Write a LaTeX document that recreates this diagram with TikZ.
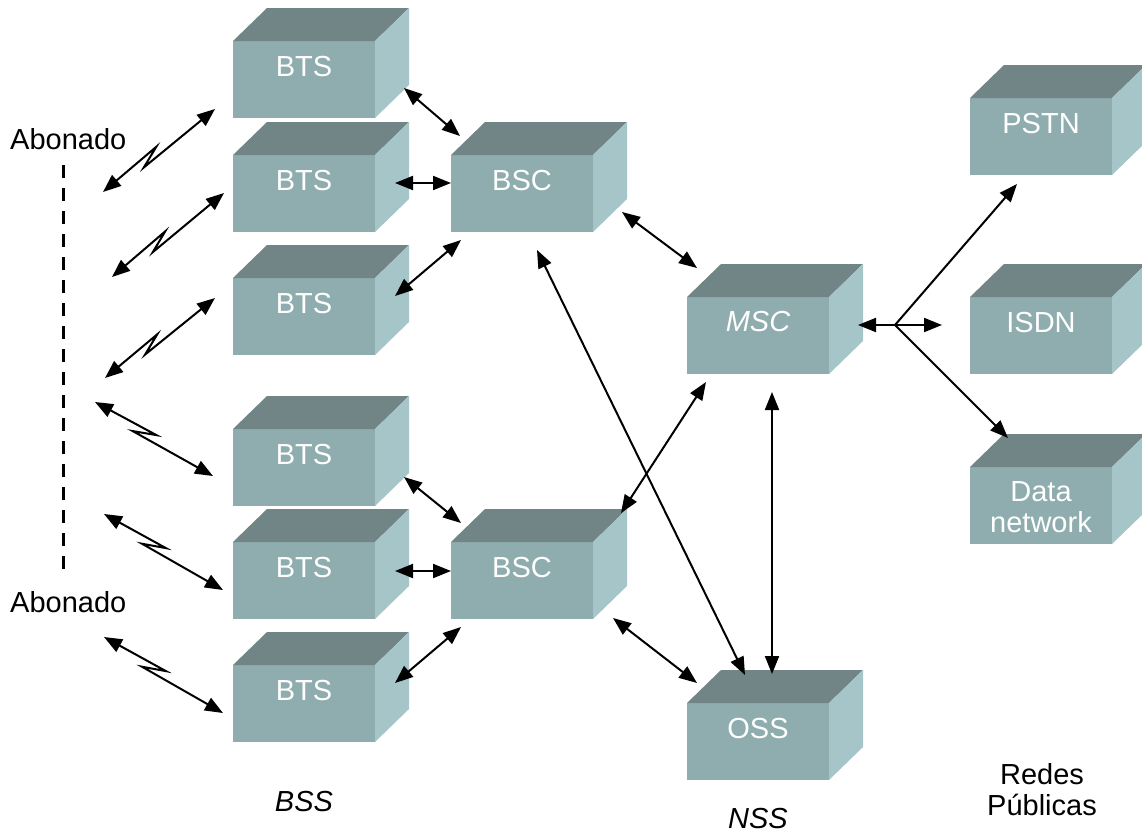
\documentclass[tikz,border=0pt]{standalone}
\usepackage{fontspec}
\setmainfont{Liberation Sans}
\usetikzlibrary{arrows.meta,calc}
\definecolor{cfront}{HTML}{8FADAE}
\definecolor{ctop}{HTML}{718587}
\definecolor{cside}{HTML}{A6C5C8}
\tikzset{
  face/.style={rectangle, fill=cfront, minimum width=142pt, minimum height=77pt,
    inner sep=0pt, outer sep=0pt, anchor=north west},
  boxtext/.style={anchor=base, text=white, inner sep=0pt,
    font=\fontsize{29}{31}\selectfont},
  lbl/.style={inner sep=0pt, text=black, font=\fontsize{29}{31}\selectfont},
  conn/.style={line width=2pt, black},
  >={Triangle[length=18pt 0 0,width=14pt 0 0]}
}
\newcommand{\netbox}[3]{%
  \node[face] (#1) at (#2,#3) {};
  \fill[ctop] (#1.north west) -- ++(34pt,33pt) -- ++(142pt,0pt) -- (#1.north east) -- cycle;
  \fill[cside] (#1.north east) -- ++(34pt,33pt) -- ++(0pt,-77pt) -- (#1.south east) -- cycle;
}
\newcommand{\zap}[2]{%
  \draw[conn,<->] (#1) -- ($(#1)!0.5!(#2)!4.6pt!90:(#2)$)
    -- ($(#1)!0.34!(#2)!4.6pt!-90:(#2)$) -- (#2);
}
\begin{document}
\begin{tikzpicture}[x=1pt,y=-1pt]
\useasboundingbox (0,0) rectangle (1142,833);

% boxes
\netbox{bts1}{233}{41}
\netbox{bts2}{233}{155}
\netbox{bts3}{233}{278}
\netbox{bts4}{233}{429}
\netbox{bts5}{233}{542}
\netbox{bts6}{233}{665}
\netbox{bsc1}{451}{155}
\netbox{bsc2}{451}{542}
\netbox{msc}{687}{297}
\netbox{oss}{687}{703}
\netbox{pstn}{970}{98}
\netbox{isdn}{970}{297}
\netbox{data}{970}{467}

\foreach \b in {bts1,bts2,bts3,bts4,bts5,bts6}
  \node[boxtext] (\b-t) at ([yshift=-35pt]\b.north) {BTS};
\node[boxtext] (bsc1-t) at ([yshift=-35pt]bsc1.north) {BSC};
\node[boxtext] (bsc2-t) at ([yshift=-35pt]bsc2.north) {BSC};
\node[boxtext] (msc-t) at ([yshift=-34pt]msc.north) {\itshape MSC};
\node[boxtext] (oss-t) at ([yshift=-35pt]oss.north) {OSS};
\node[boxtext] (pstn-t) at ([yshift=-35pt]pstn.north) {PSTN};
\node[boxtext] (isdn-t) at ([yshift=-35pt]isdn.north) {ISDN};
\node[boxtext, anchor=north, align=center] (data-t) at ([yshift=-14pt]data.north) {Data\\network};

% labels
\node[lbl, anchor=base west] (ab1) at (10,149) {Abonado};
\node[lbl, anchor=base west] (ab2) at (10,612) {Abonado};
\node[lbl, anchor=base] (bss) at (304,811) {\itshape BSS};
\node[lbl, anchor=base] (nss) at (758,828) {\itshape NSS};
\node[lbl, anchor=north, align=center] (redes) at (1042,763) {Redes\\Públicas};

% dashed subscriber line
\coordinate (d1) at (63,165);
\coordinate (d2) at (63,572);
\draw[line width=3pt, dash pattern=on 13pt off 10pt] (d1) -- (d2);

% radio links
\coordinate (a1) at (103,192); \coordinate (r1) at (215,109);
\coordinate (a2) at (112,277); \coordinate (r2) at (224,193);
\coordinate (a3) at (105,378); \coordinate (r3) at (215,298);
\coordinate (a4) at (95,402);  \coordinate (r4) at (213,476);
\coordinate (a5) at (104,514); \coordinate (r5) at (223,590);
\coordinate (a6) at (104,637); \coordinate (r6) at (223,713);
\zap{a1}{r1}
\zap{a2}{r2}
\zap{a3}{r3}
\zap{a4}{r4}
\zap{a5}{r5}
\zap{a6}{r6}

% BTS - BSC links
\coordinate (t1) at (404,88);  \coordinate (s1a) at (460,136);
\coordinate (t2) at (395,183); \coordinate (s1b) at (451,183);
\coordinate (t3) at (395,296); \coordinate (s1c) at (461,240);
\coordinate (t4) at (404,477); \coordinate (s2a) at (461,523);
\coordinate (t5) at (395,571); \coordinate (s2b) at (451,571);
\coordinate (t6) at (395,683); \coordinate (s2c) at (461,627);
\draw[conn,<->] (t1) -- (s1a);
\draw[conn,<->] (t2) -- (s1b);
\draw[conn,<->] (t3) -- (s1c);
\draw[conn,<->] (t4) -- (s2a);
\draw[conn,<->] (t5) -- (s2b);
\draw[conn,<->] (t6) -- (s2c);

% core links
\coordinate (bsc1m) at (622,212); \coordinate (msc1) at (697,268);
\coordinate (bsc1o) at (537,250); \coordinate (oss1) at (745,675);
\coordinate (bsc2m) at (621,513); \coordinate (msc2) at (706,382);
\coordinate (msc3) at (772,392);  \coordinate (oss2) at (772,674);
\coordinate (bsc2o) at (613,618); \coordinate (oss3) at (697,683);
\draw[conn,<->] (bsc1m) -- (msc1);
\draw[conn,<->] (bsc1o) -- (oss1);
\draw[conn,<->] (bsc2m) -- (msc2);
\draw[conn,<->] (msc3) -- (oss2);
\draw[conn,<->] (bsc2o) -- (oss3);

% public networks
\coordinate (mscr) at (858,325);
\coordinate (j) at (895,325);
\coordinate (isdnl) at (942,325);
\coordinate (pstnl) at (1017,184);
\coordinate (datal) at (1008,438);
\draw[conn,<-] (mscr) -- (j);
\draw[conn,->] (j) -- (isdnl);
\draw[conn,->] (j) -- (pstnl);
\draw[conn,->] (j) -- (datal);
\end{tikzpicture}
\end{document}
